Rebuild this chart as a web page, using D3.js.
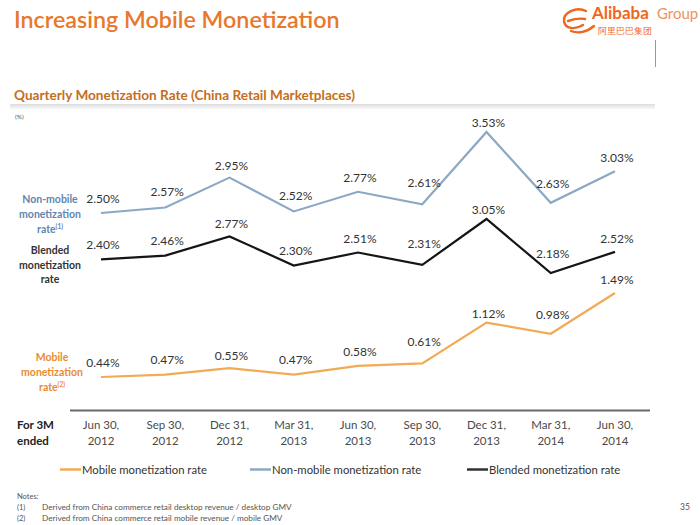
<!DOCTYPE html>
<html><head><meta charset="utf-8">
<script src="https://cdn.jsdelivr.net/npm/d3@7/dist/d3.min.js"></script>
<style>
body{margin:0;background:#fff}
svg{display:block}
text{font-family:Lato,"Open Sans",sans-serif}
</style></head>
<body><svg id="c" width="700" height="525"></svg>
<script>
const quarters = [["Jun 30,","2012"],["Sep 30,","2012"],["Dec 31,","2012"],["Mar 31,","2013"],["Jun 30,","2013"],["Sep 30,","2013"],["Dec 31,","2013"],["Mar 31,","2014"],["Jun 30,","2014"]];
const nonMobile = [2.50,2.57,2.95,2.52,2.77,2.61,3.53,2.63,3.03];
const blended   = [2.40,2.46,2.77,2.30,2.51,2.31,3.05,2.18,2.52];
const mobile    = [0.44,0.47,0.55,0.47,0.58,0.61,1.12,0.98,1.49];
const legendLabels = ["Mobile monetization rate","Non-mobile monetization rate","Blended monetization rate"];
const notes = ["Derived from China commerce retail desktop revenue / desktop GMV","Derived from China commerce retail mobile revenue / mobile GMV"];

const svg = d3.select("#c");
const ORANGE = "#E8782C", LINE_OR = "#F2AA55", BLUE = "#8CA8C4", BLUE_T = "#5F86B0", BLACK = "#151515";
// extra label lift per quarter (layout only), to keep labels clear of the lines
const labelLift = [0,1,-2,1,0,7,-5,5,-1];

// Header
svg.append("text").attr("x",14).attr("y",28).attr("font-size",23.3).attr("fill",ORANGE).attr("font-weight",600)
  .text("Increasing Mobile Monetization");

// logo
const logo = svg.append("g");
logo.append("path").attr("d","M586,11 C576,6 563,13 564,21 C565,29 575,30 583,25 M568,21 C574,19 580,18 585,19 M571,31 C578,34 587,32 594,26")
  .attr("fill","none").attr("stroke","#F0661E").attr("stroke-width",2.4).attr("stroke-linecap","round");
logo.append("text").attr("x",592).attr("y",19).attr("font-size",17).attr("font-weight",700).attr("fill","#F0661E").text("Alibaba");
logo.append("text").attr("x",657).attr("y",19).attr("font-size",15).attr("fill","#F09060").text("Group");
logo.append("text").attr("x",598).attr("y",33.5).attr("font-size",8.5).attr("fill","#F0661E").attr("font-family","Noto Sans CJK SC").text("阿里巴巴集团");
svg.append("line").attr("x1",655.5).attr("x2",655.5).attr("y1",40).attr("y2",67).attr("stroke","#999").attr("stroke-width",1);

// subtitle band
const grad = svg.append("defs").append("linearGradient").attr("id","band").attr("x1",0).attr("x2",0).attr("y1",0).attr("y2",1);
grad.append("stop").attr("offset","0%").attr("stop-color","#dcdcdc");
grad.append("stop").attr("offset","100%").attr("stop-color","#ffffff");
svg.append("rect").attr("x",10).attr("y",104).attr("width",645).attr("height",6).attr("fill","url(#band)");
svg.append("text").attr("x",14).attr("y",100).attr("font-size",13.6).attr("font-weight",700).attr("fill","#C46E22")
  .text("Quarterly Monetization Rate (China Retail Marketplaces)");
svg.append("text").attr("x",15).attr("y",119).attr("font-size",6.5).attr("fill","#555").text("(%)");

// scales
const x = d3.scalePoint().domain(d3.range(quarters.length)).range([101,615]);
const yNon = d3.scaleLinear().domain([2.50,3.53]).range([213,132]);
const yBl  = d3.scaleLinear().domain([2.18,3.05]).range([273,219]);
const yMob = d3.scaleLinear().domain([0.44,1.49]).range([377,293]);

const series = [
  {vals:nonMobile, y:yNon, color:BLUE},
  {vals:blended, y:yBl, color:BLACK},
  {vals:mobile, y:yMob, color:LINE_OR}
];
series.forEach(s=>{
  const line = d3.line().x((d,i)=>x(i)).y(d=>s.y(d));
  svg.append("path").datum(s.vals).attr("d",line).attr("fill","none").attr("stroke",s.color).attr("stroke-width",2.2).attr("stroke-linejoin","miter");
  svg.append("g").selectAll("text").data(s.vals).join("text")
    .attr("x",(d,i)=>x(i)+2).attr("y",(d,i)=>s.y(d)-10-labelLift[i])
    .attr("text-anchor","middle").attr("font-size",12).attr("fill","#333")
    .text(d=>d.toFixed(2)+"%");
});

// left series labels
function multi(lines, cx, y0, dy, color, sup){
  const t = svg.append("text").attr("text-anchor","middle").attr("font-size",10.5).attr("font-weight",700).attr("fill",color);
  lines.forEach((l,i)=>{
    t.append("tspan").attr("x",cx).attr("y",y0+i*dy).text(l);
  });
  if(sup){ t.append("tspan").attr("font-size",6.5).attr("dy",-4).text(sup); }
}
multi(["Non-mobile","monetization","rate"],50,203,15,BLUE_T,"(1)");
multi(["Blended","monetization","rate"],50,254,14.5,"#333");
multi(["Mobile","monetization","rate"],52,361,15,"#EA8A30","(2)");

// x axis
svg.append("line").attr("x1",70).attr("x2",650).attr("y1",410.5).attr("y2",410.5).attr("stroke","#6a6a6a").attr("stroke-width",2);
const xt = svg.append("g").selectAll("text").data(quarters).join("text")
  .attr("text-anchor","middle").attr("font-size",11.5).attr("fill","#4a4a4a");
xt.append("tspan").attr("x",(d,i)=>x(i)).attr("y",429).text(d=>d[0]);
xt.append("tspan").attr("x",(d,i)=>x(i)).attr("y",445).text(d=>d[1]);
const f3 = svg.append("text").attr("font-size",11.5).attr("font-weight",700).attr("fill","#222");
f3.append("tspan").attr("x",17).attr("y",429).text("For 3M");
f3.append("tspan").attr("x",17).attr("y",445).text("ended");

// legend
const legX = [60,250,467], legC = [LINE_OR,BLUE,"#333"];
legendLabels.forEach((l,i)=>{
  svg.append("line").attr("x1",legX[i]).attr("x2",legX[i]+21).attr("y1",469.5).attr("y2",469.5).attr("stroke",legC[i]).attr("stroke-width",2.5);
  svg.append("text").attr("x",legX[i]+22).attr("y",473.5).attr("font-size",11.3).attr("fill","#333").text(l);
});

// notes
svg.append("text").attr("x",17).attr("y",499).attr("font-size",7.5).attr("fill","#555").text("Notes:");
notes.forEach((n,i)=>{
  svg.append("text").attr("x",17).attr("y",510+i*11).attr("font-size",7.5).attr("fill","#555").text("("+(i+1)+")");
  svg.append("text").attr("x",42).attr("y",510+i*11).attr("font-size",8.2).attr("fill","#555").text(n);
});
svg.append("text").attr("x",680).attr("y",510).attr("font-size",8.5).attr("fill","#555").text("35");
</script></body></html>
